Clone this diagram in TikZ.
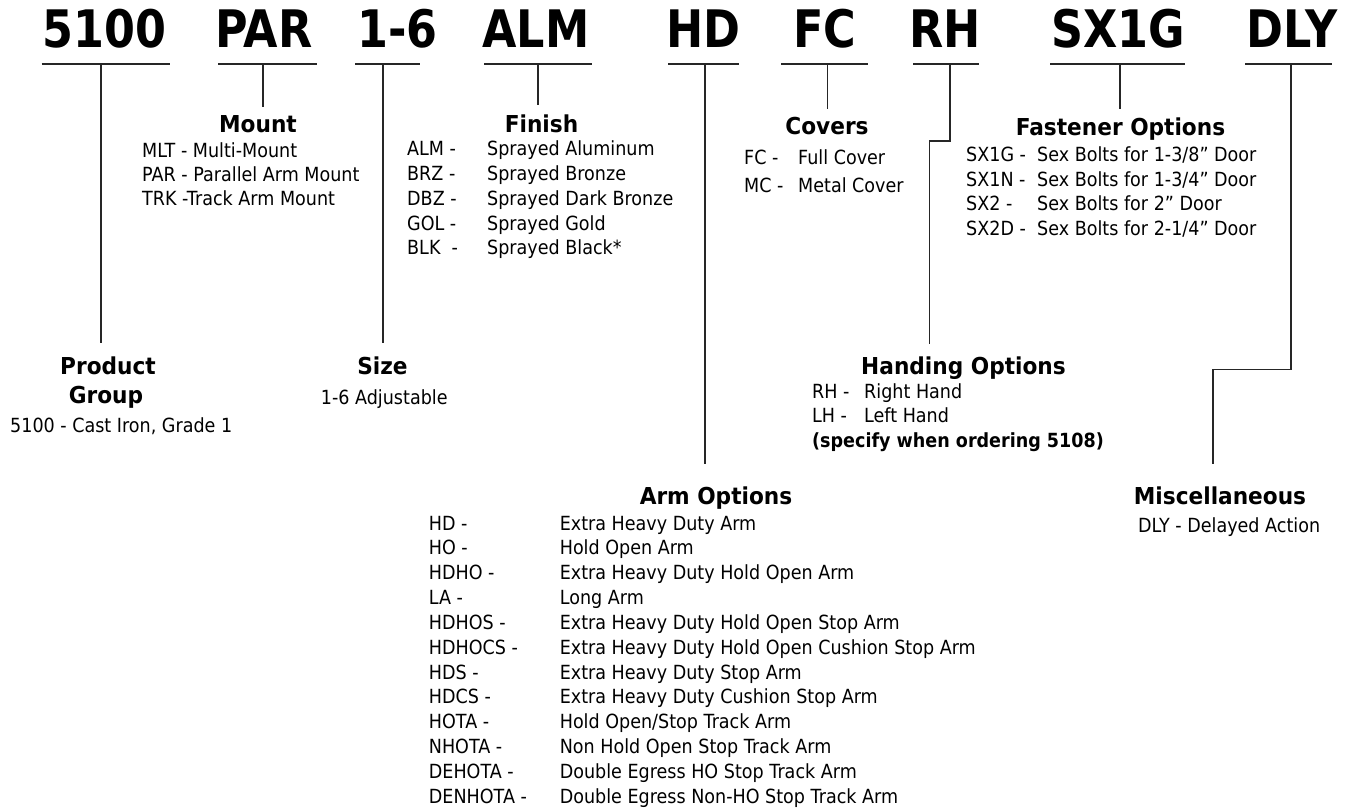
\documentclass[tikz,border=0pt]{standalone}
\usepackage{fontspec}
\setmainfont{DejaVu Sans}[FakeStretch=0.9]
\newfontfamily\codefont{DejaVu Sans}[FakeStretch=0.86]
\newfontfamily\headfont{DejaVu Sans}[FakeStretch=0.93]
\begin{document}
\begin{tikzpicture}[x=1pt,y=-1pt,
  code/.style={font=\codefont\bfseries\fontsize{51.7}{60}\selectfont, anchor=base, inner sep=0},
  head/.style={font=\headfont\bfseries\fontsize{23.3}{28}\selectfont, anchor=base, inner sep=0},
  body/.style={font=\fontsize{19.5}{23}\selectfont, anchor=base west, inner sep=0},
  bbold/.style={font=\bfseries\fontsize{19.5}{23}\selectfont, anchor=base west, inner sep=0},
  conn/.style={line width=1.3pt, draw=black!85}]
\useasboundingbox (0,0) rectangle (1346,809);

% ---- top codes
\node[code] (c5100) at (104.7,47.5) {5100};
\node[code] (cPAR)  at (264,47.5)   {PAR};
\node[code] (c16)   at (397.5,47.5) {1-6};
\node[code] (cALM)  at (536,47.5)   {ALM};
\node[code] (cHD)   at (703.5,47.5) {HD};
\node[code] (cFC)   at (825,47.5)   {FC};
\node[code] (cRH)   at (945,47.5)   {RH};
\node[code] (cSX)   at (1118,47.5)  {SX1G};
\node[code] (cDLY)  at (1292,47.5)  {DLY};

% ---- underline coordinates
\coordinate (u1a) at (41.7,64);  \coordinate (u1b) at (170,64);
\coordinate (u2a) at (218,64);   \coordinate (u2b) at (317,64);
\coordinate (u3a) at (355,64);   \coordinate (u3b) at (420,64);
\coordinate (u4a) at (484,64);   \coordinate (u4b) at (591.5,64);
\coordinate (u5a) at (668,64);   \coordinate (u5b) at (739,64);
\coordinate (u6a) at (781,64);   \coordinate (u6b) at (867.5,64);
\coordinate (u7a) at (913,64);   \coordinate (u7b) at (979,64);
\coordinate (u8a) at (1050,64);  \coordinate (u8b) at (1185,64);
\coordinate (u9a) at (1245,64);  \coordinate (u9b) at (1332,64);
\foreach \k in {1,...,9} {\draw[conn] (u\k a) -- (u\k b);}

% ---- headings
\node[head] (hProd)  at (108,374)   {Product};
\node[head] (hGroup) at (106,403)   {Group};
\node[head] (hMount) at (258,132)   {Mount};
\node[head] (hSize)  at (382.5,374) {Size};
\node[head] (hFin)   at (541.5,132) {Finish};
\node[head] (hArm)   at (716,504)   {Arm Options};
\node[head] (hCov)   at (827,134)   {Covers};
\node[head] (hHand)  at (963.5,374) {Handing Options};
\node[head] (hFast)  at (1120.5,135){Fastener Options};
\node[head] (hMisc)  at (1220,504)  {Miscellaneous};

% ---- connector coordinates
\coordinate (l1t) at (101,64);   \coordinate (l1b) at (101,343);
\coordinate (l2t) at (263,64);   \coordinate (l2b) at (263,107);
\coordinate (l3t) at (383,64);   \coordinate (l3b) at (383,343);
\coordinate (l4t) at (538,64);   \coordinate (l4b) at (538,105);
\coordinate (l5t) at (705,64);   \coordinate (l5b) at (705,464);
\coordinate (l6t) at (827.5,64); \coordinate (l6b) at (827.5,109);
\coordinate (l7t) at (950,64);   \coordinate (l7m) at (950,141);
\coordinate (l7n) at (929.5,141);\coordinate (l7b) at (929.5,344);
\coordinate (l8t) at (1120,64);  \coordinate (l8b) at (1120,109);
\coordinate (l9t) at (1291,64);  \coordinate (l9m) at (1291,369.5);
\coordinate (l9n) at (1213,369.5);\coordinate (l9b) at (1213,464);
\draw[conn] (l1t) -- (l1b);
\draw[conn] (l2t) -- (l2b);
\draw[conn] (l3t) -- (l3b);
\draw[conn] (l4t) -- (l4b);
\draw[conn] (l5t) -- (l5b);
\draw[conn] (l6t) -- (l6b);
\draw[conn] (l7t) -- (l7m) -- (l7n) -- (l7b);
\draw[conn] (l8t) -- (l8b);
\draw[conn] (l9t) -- (l9m) -- (l9n) -- (l9b);

% ---- Product group
\node[body] (pg1) at (10,432.5) {5100 - Cast Iron, Grade 1};
% ---- Size
\node[body] (sz1) at (320.7,404) {1-6 Adjustable};
% ---- Mount
\node[body] (mt1) at (142,157) {MLT - Multi-Mount};
\node[body] (mt2) at (142,181) {PAR - Parallel Arm Mount};
\node[body] (mt3) at (142,205) {TRK -Track Arm Mount};
% ---- Finish
\node[body] (fc1) at (407,155.7) {ALM -};  \node[body] (fd1) at (487,155.7) {Sprayed Aluminum};
\node[body] (fc2) at (407,180.5) {BRZ -};  \node[body] (fd2) at (487,180.5) {Sprayed Bronze};
\node[body] (fc3) at (407,205.3) {DBZ -};  \node[body] (fd3) at (487,205.3) {Sprayed Dark Bronze};
\node[body] (fc4) at (407,230.1) {GOL -};  \node[body] (fd4) at (487,230.1) {Sprayed Gold};
\node[body] (fc5) at (407,254.9) {BLK\ \ -}; \node[body] (fd5) at (487,254.9) {Sprayed Black*};
% ---- Covers
\node[body] (cc1) at (744,164) {FC -}; \node[body] (cd1) at (798,164) {Full Cover};
\node[body] (cc2) at (744,192) {MC -}; \node[body] (cd2) at (798,192) {Metal Cover};
% ---- Fastener
\node[body] (sc1) at (966,161)   {SX1G -}; \node[body] (sd1) at (1037,161)   {Sex Bolts for 1-3/8” Door};
\node[body] (sc2) at (966,186)   {SX1N -}; \node[body] (sd2) at (1037,186)   {Sex Bolts for 1-3/4” Door};
\node[body] (sc3) at (966,210.7) {SX2 -};  \node[body] (sd3) at (1037,210.7) {Sex Bolts for 2” Door};
\node[body] (sc4) at (966,235.7) {SX2D -}; \node[body] (sd4) at (1037,235.7) {Sex Bolts for 2-1/4” Door};
% ---- Handing
\node[body] (hc1) at (812,398)   {RH -}; \node[body] (hd1) at (864,398)   {Right Hand};
\node[body] (hc2) at (812,422.5) {LH -}; \node[body] (hd2) at (864,422.5) {Left Hand};
\node[bbold] (hn) at (812,447) {(specify when ordering 5108)};
% ---- Misc
\node[body] (ms1) at (1138,532) {DLY - Delayed Action};
% ---- Arm options
\node[body] (ac1)  at (428.7,530.0) {HD -};      \node[body] (ad1)  at (559.6,530.0) {Extra Heavy Duty Arm};
\node[body] (ac2)  at (428.7,554.85) {HO -};     \node[body] (ad2)  at (559.6,554.85) {Hold Open Arm};
\node[body] (ac3)  at (428.7,579.7) {HDHO -};    \node[body] (ad3)  at (559.6,579.7) {Extra Heavy Duty Hold Open Arm};
\node[body] (ac4)  at (428.7,604.55) {LA -};     \node[body] (ad4)  at (559.6,604.55) {Long Arm};
\node[body] (ac5)  at (428.7,629.4) {HDHOS -};   \node[body] (ad5)  at (559.6,629.4) {Extra Heavy Duty Hold Open Stop Arm};
\node[body] (ac6)  at (428.7,654.25) {HDHOCS -}; \node[body] (ad6)  at (559.6,654.25) {Extra Heavy Duty Hold Open Cushion Stop Arm};
\node[body] (ac7)  at (428.7,679.1) {HDS -};     \node[body] (ad7)  at (559.6,679.1) {Extra Heavy Duty Stop Arm};
\node[body] (ac8)  at (428.7,703.95) {HDCS -};   \node[body] (ad8)  at (559.6,703.95) {Extra Heavy Duty Cushion Stop Arm};
\node[body] (ac9)  at (428.7,728.8) {HOTA -};    \node[body] (ad9)  at (559.6,728.8) {Hold Open/Stop Track Arm};
\node[body] (ac10) at (428.7,753.65) {NHOTA -};  \node[body] (ad10) at (559.6,753.65) {Non Hold Open Stop Track Arm};
\node[body] (ac11) at (428.7,778.5) {DEHOTA -};  \node[body] (ad11) at (559.6,778.5) {Double Egress HO Stop Track Arm};
\node[body] (ac12) at (428.7,803.35) {DENHOTA -};\node[body] (ad12) at (559.6,803.35) {Double Egress Non-HO Stop Track Arm};
\end{tikzpicture}
\end{document}
